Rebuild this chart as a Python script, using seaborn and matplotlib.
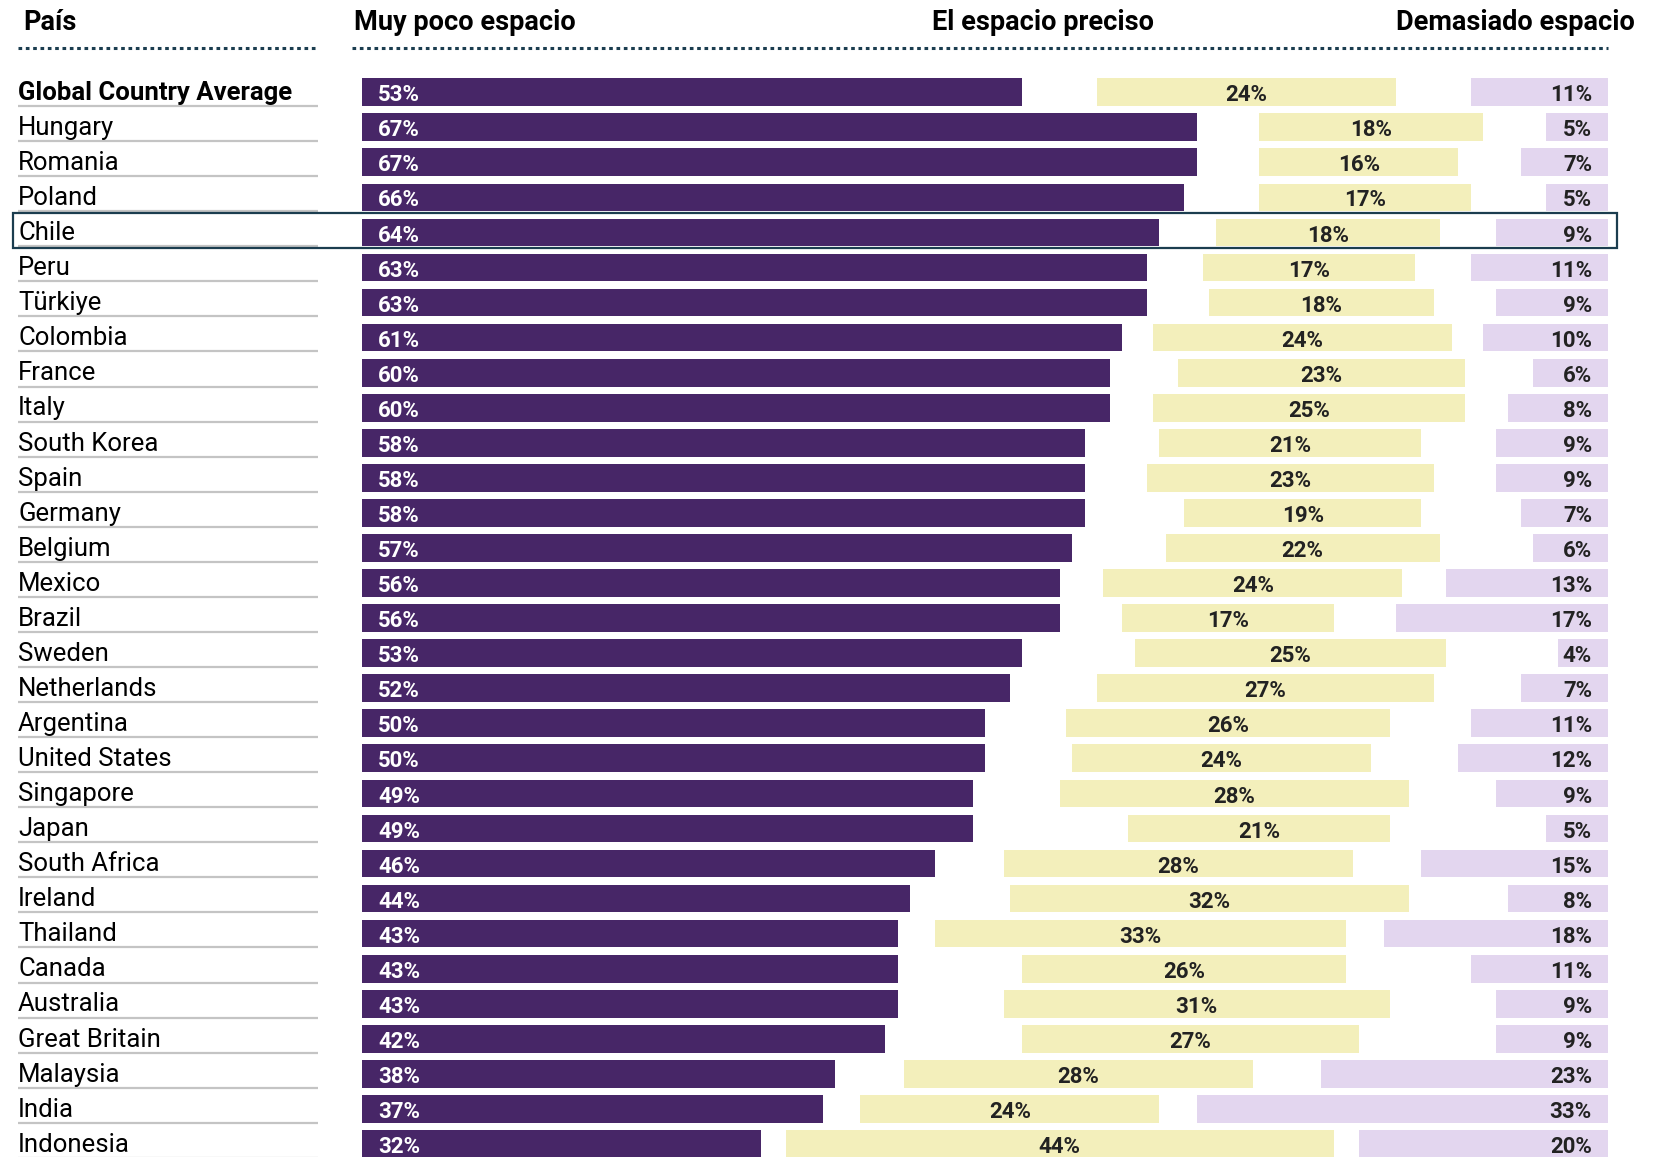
import matplotlib
matplotlib.use("Agg")
import matplotlib.pyplot as plt
import seaborn as sns
import pandas as pd

# Data
countries = [
    "Global Country Average", "Hungary", "Romania", "Poland", "Chile", "Peru",
    "Türkiye", "Colombia", "France", "Italy", "South Korea", "Spain", "Germany",
    "Belgium", "Mexico", "Brazil", "Sweden", "Netherlands", "Argentina",
    "United States", "Singapore", "Japan", "South Africa", "Ireland", "Thailand",
    "Canada", "Australia", "Great Britain", "Malaysia", "India", "Indonesia",
]
too_little = [53, 67, 67, 66, 64, 63, 63, 61, 60, 60, 58, 58, 58, 57, 56, 56,
              53, 52, 50, 50, 49, 49, 46, 44, 43, 43, 43, 42, 38, 37, 32]
just_right = [24, 18, 16, 17, 18, 17, 18, 24, 23, 25, 21, 23, 19, 22, 24, 17,
              25, 27, 26, 24, 28, 21, 28, 32, 33, 26, 31, 27, 28, 24, 44]
too_much = [11, 5, 7, 5, 9, 11, 9, 10, 6, 8, 9, 9, 7, 6, 13, 17,
            4, 7, 11, 12, 9, 5, 15, 8, 18, 11, 9, 9, 23, 33, 20]
headers = ["País", "Muy poco espacio", "El espacio preciso", "Demasiado espacio"]
highlight = "Chile"

PURPLE = "#472667"
YELLOW = "#f3efbb"
LAVENDER = "#e3d6ef"
NAVY = "#1b3d4f"
TEXT = "#222222"

df = pd.DataFrame({"country": countries, "little": too_little,
                   "right": just_right, "much": too_much})
# the "don't know" remainder is split into the two gaps
df["gap"] = (100 - df["little"] - df["right"] - df["much"]) / 2
df["right_start"] = df["little"] + df["gap"]
df["much_start"] = 100 - df["much"]

W, H = 1657, 1157
X0, PX = 362, 12.46        # pixel of 0% and pixels per percent
Y0, ROW = 92.2, 35.06      # pixel centre of first row and row spacing

fig = plt.figure(figsize=(W / 100, H / 100), dpi=100)
ax = fig.add_axes([X0 / W, 0, 100 * PX / W, 1])

def dx(px):
    return (px - X0) / PX

def dy(py):
    return (py - Y0) / ROW

common = dict(y="country", order=countries, orient="h", saturation=1,
              width=0.79, linewidth=0, ax=ax)
sns.barplot(data=df, x="little", color=PURPLE, **common)
sns.barplot(data=df, x="right", color=YELLOW, left=df["right_start"].values, **common)
sns.barplot(data=df, x="much", color=LAVENDER, left=df["much_start"].values, **common)

ax.set_xlim(0, 100)
ax.set_ylim(dy(H), dy(0))
ax.axis("off")

font = "Roboto"
PCT = 16
for i, row in df.iterrows():
    bold = i == 0
    ax.text(dx(18), i + 0.22, row["country"], fontsize=18.5, family=font,
            fontweight="bold" if bold else "normal", color="black",
            ha="left", va="baseline", clip_on=False)
    ax.plot([dx(18), dx(318)], [i + 0.395, i + 0.395], color="#c4c4c4", lw=1.6,
            solid_capstyle="butt", clip_on=False)
    ax.text(dx(378), i + 0.26, f"{row['little']}%", fontsize=PCT, family=font,
            fontweight="bold", color="white", ha="left", va="baseline")
    ax.text(row["right_start"] + row["right"] / 2, i + 0.26, f"{row['right']}%",
            fontsize=PCT, family=font, fontweight="bold", color=TEXT,
            ha="center", va="baseline")
    ax.text(dx(1592), i + 0.26, f"{row['much']}%", fontsize=PCT, family=font,
            fontweight="bold", color=TEXT, ha="right", va="baseline")

# headers and dotted rules
hy = dy(30)
HF = 19.5
ax.text(dx(23), hy, headers[0], fontsize=HF, family=font, fontweight="bold",
        ha="left", va="baseline", clip_on=False)
ax.text(dx(354), hy, headers[1], fontsize=HF, family=font, fontweight="bold",
        ha="left", va="baseline", clip_on=False)
ax.text(dx(1043), hy, headers[2], fontsize=HF, family=font, fontweight="bold",
        ha="center", va="baseline", clip_on=False)
ax.text(dx(1635), hy, headers[3], fontsize=HF, family=font, fontweight="bold",
        ha="right", va="baseline", clip_on=False)
ly = dy(47.5)
for a, b in [(18, 317), (352, 1608)]:
    ax.plot([dx(a), dx(b)], [ly, ly], color=NAVY, lw=2.2,
            linestyle=(0, (1.2, 1.2)), dash_capstyle="butt", clip_on=False)

# highlight box around the chosen country
k = countries.index(highlight)
ax.add_patch(plt.Rectangle((dx(13), k - 0.55), dx(1617) - dx(13), 0.99,
                           fill=False, edgecolor=NAVY, lw=1.6, clip_on=False,
                           zorder=5))

fig.savefig("out.png", dpi=100)
